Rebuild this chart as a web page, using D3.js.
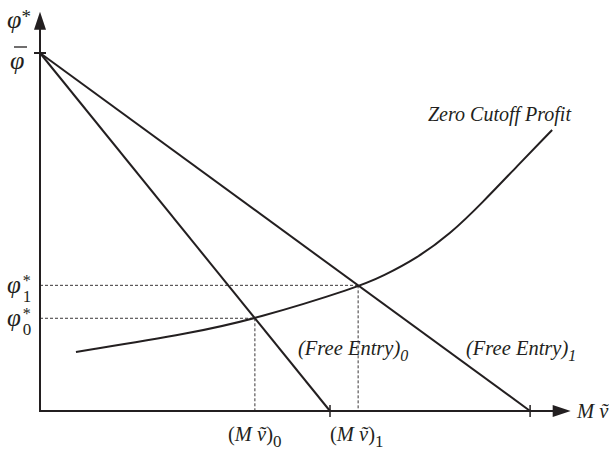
<!DOCTYPE html>
<html><head><meta charset="utf-8">
<script src="https://cdn.jsdelivr.net/npm/d3@7"></script>
<style>body{margin:0;background:#fff}svg{display:block}</style>
</head><body><svg id="c" width="609" height="451"></svg>
<script>
// Data (abstract units): phiBar = 1, (M v)_0 = 1
const phiBar = 1;
const freeEntryIntercepts = [1.0, 1.69];           // x-intercepts of (Free Entry)_0, (Free Entry)_1
const zcpX = [0.124, 0.528, 0.741, 1.097, 1.183, 1.300, 1.414, 1.528, 1.645, 1.766];
const zcpY = [0.165, 0.218, 0.257, 0.346, 0.377, 0.427, 0.494, 0.584, 0.684, 0.785];
const equilibriumX = [0.741, 1.097];
const equilibriumY = [0.259, 0.351];
const eqLabels = ["0", "1"];
const xAxisMax = 1.83, yAxisMax = 1.115;

const FONT = '"Liberation Serif", "Times New Roman", serif';
const svg = d3.select("#c");
const x = d3.scaleLinear().domain([0, 1]).range([40, 330]);
const y = d3.scaleLinear().domain([0, 1]).range([411, 53]);
const ink = "#231f20";

// dashed guides
equilibriumX.forEach((ex, i) => {
  const ey = equilibriumY[i];
  svg.append("line").attr("x1", x(0)).attr("x2", x(ex)).attr("y1", y(ey)).attr("y2", y(ey))
    .attr("stroke", ink).attr("stroke-width", 0.9).attr("stroke-dasharray", "3,2");
  svg.append("line").attr("x1", x(ex)).attr("x2", x(ex)).attr("y1", y(ey)).attr("y2", y(0))
    .attr("stroke", ink).attr("stroke-width", 0.9).attr("stroke-dasharray", "3,2");
});

// axes
svg.append("line").attr("x1", x(0)).attr("x2", x(0)).attr("y1", y(0)+1).attr("y2", y(yAxisMax)+12)
  .attr("stroke", ink).attr("stroke-width", 2);
svg.append("line").attr("x1", x(0)-1).attr("x2", x(xAxisMax)-12).attr("y1", y(0)).attr("y2", y(0))
  .attr("stroke", ink).attr("stroke-width", 2);
const yt = y(yAxisMax), xt = x(xAxisMax);
svg.append("path").attr("d", `M${x(0)},${yt} L${x(0)-6},${yt+18} L${x(0)+6},${yt+18} Z`).attr("fill", ink);
svg.append("path").attr("d", `M${xt},${y(0)} L${xt-18},${y(0)-6} L${xt-18},${y(0)+6} Z`).attr("fill", ink);

// ticks
svg.append("line").attr("x1", x(0)-6).attr("x2", x(0)+6).attr("y1", y(phiBar)).attr("y2", y(phiBar))
  .attr("stroke", ink).attr("stroke-width", 2);
freeEntryIntercepts.forEach(v => {
  svg.append("line").attr("x1", x(v)).attr("x2", x(v)).attr("y1", y(0)-6).attr("y2", y(0)+6)
    .attr("stroke", ink).attr("stroke-width", 1.5);
});

// free entry lines
freeEntryIntercepts.forEach(v => {
  svg.append("line").attr("x1", x(0)).attr("y1", y(phiBar)).attr("x2", x(v)).attr("y2", y(0))
    .attr("stroke", ink).attr("stroke-width", 2);
});

// zero cutoff profit curve
const pts = zcpX.map((d, i) => [d, zcpY[i]]);
svg.append("path").datum(pts)
  .attr("d", d3.line().x(d => x(d[0])).y(d => y(d[1])).curve(d3.curveBasis))
  .attr("fill", "none").attr("stroke", ink).attr("stroke-width", 2);

// labels
function t(xx, yy, s, size, italic, anchor) {
  return svg.append("text").attr("x", xx).attr("y", yy).attr("font-size", size)
    .attr("font-family", FONT).attr("fill", ink)
    .attr("font-style", italic ? "italic" : "normal").attr("text-anchor", anchor || "start").text(s);
}
// y-axis labels
const axisTitle = t(7, 28, "φ", 26, true);
axisTitle.append("tspan").attr("font-style", "normal").attr("font-size", 19).attr("dy", -5).text("*");
t(10, 69, "φ", 26, true);
svg.append("line").attr("x1", 14).attr("x2", 27).attr("y1", 47).attr("y2", 47).attr("stroke", ink).attr("stroke-width", 1.3);
equilibriumY.forEach((ev, i) => {
  const py = y(ev);
  const g = t(7, py + 8, "φ", 25, true);
  g.append("tspan").attr("font-style", "normal").attr("font-size", 16).attr("dx", 2).attr("dy", -7).text("*");
  g.append("tspan").attr("font-style", "normal").attr("font-size", 17).attr("dx", -8).attr("dy", 16).text(eqLabels[i]);
});
// x-axis labels
function mv(xx, yy, sub) {
  const g = svg.append("text").attr("x", xx).attr("y", yy).attr("font-size", 20.5)
    .attr("font-family", FONT).attr("fill", ink);
  if (sub !== null) g.append("tspan").text("(");
  g.append("tspan").attr("font-style", "italic").text("M ṽ");
  if (sub !== null) {
    g.append("tspan").text(")");
    g.append("tspan").attr("font-size", 17).attr("dy", 6).text(sub);
  }
  return g;
}
mv(228, 441, eqLabels[0]);
mv(330, 441, eqLabels[1]);
mv(577, 418, null);

t(428, 121, "Zero Cutoff Profit", 20, true);
function fe(xx, yy, sub) {
  const g = svg.append("text").attr("x", xx).attr("y", yy).attr("font-size", 20.5).attr("font-style", "italic")
    .attr("font-family", FONT).attr("fill", ink);
  g.append("tspan").text("(Free Entry)");
  g.append("tspan").attr("font-size", 16).attr("dy", 6).text(sub);
}
fe(298, 355, eqLabels[0]);
fe(466, 355, eqLabels[1]);
</script></body></html>
